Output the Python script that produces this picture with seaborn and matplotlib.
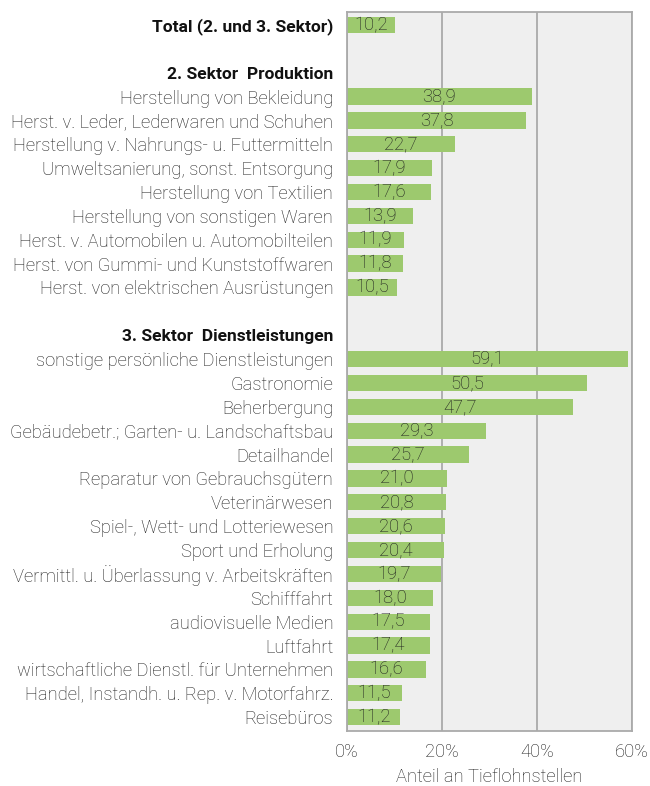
import numpy as np
import pandas as pd
import seaborn as sns
import matplotlib.pyplot as plt
from matplotlib.ticker import FuncFormatter

# categories (blank strings = spacer rows)
total_label = ["Total (2. und 3. Sektor)"]
total_values = [10.2]

prod_header = "2. Sektor  Produktion"
prod_labels = [
    "Herstellung von Bekleidung",
    "Herst. v. Leder, Lederwaren und Schuhen",
    "Herstellung v. Nahrungs- u. Futtermitteln",
    "Umweltsanierung, sonst. Entsorgung",
    "Herstellung von Textilien",
    "Herstellung von sonstigen Waren",
    "Herst. v. Automobilen u. Automobilteilen",
    "Herst. von Gummi- und Kunststoffwaren",
    "Herst. von elektrischen Ausrüstungen",
]
prod_values = [38.9, 37.8, 22.7, 17.9, 17.6, 13.9, 11.9, 11.8, 10.5]

serv_header = "3. Sektor  Dienstleistungen"
serv_labels = [
    "sonstige persönliche Dienstleistungen",
    "Gastronomie",
    "Beherbergung",
    "Gebäudebetr.; Garten- u. Landschaftsbau",
    "Detailhandel",
    "Reparatur von Gebrauchsgütern",
    "Veterinärwesen",
    "Spiel-, Wett- und Lotteriewesen",
    "Sport und Erholung",
    "Vermittl. u. Überlassung v. Arbeitskräften",
    "Schifffahrt",
    "audiovisuelle Medien",
    "Luftfahrt",
    "wirtschaftliche Dienstl. für Unternehmen",
    "Handel, Instandh. u. Rep. v. Motorfahrz.",
    "Reisebüros",
]
serv_values = [59.1, 50.5, 47.7, 29.3, 25.7, 21.0, 20.8, 20.6, 20.4, 19.7,
               18.0, 17.5, 17.4, 16.6, 11.5, 11.2]

order = (total_label + [""] + [prod_header] + prod_labels + [" "]
         + [serv_header] + serv_labels)
values = (total_values + [np.nan, np.nan] + prod_values + [np.nan, np.nan]
          + serv_values)
df = pd.DataFrame({"Kategorie": order, "Anteil": values})
bold_labels = total_label + [prod_header, serv_header]

sns.set_style("white")
plt.rcParams["font.family"] = ["Roboto", "DejaVu Sans"]
plt.rcParams["font.weight"] = "light"
plt.rcParams["axes.labelweight"] = "light"

fig, ax = plt.subplots(figsize=(6.5, 7.86), dpi=100)
fig.subplots_adjust(left=0.534, right=0.972, top=0.985, bottom=0.07)

sns.barplot(data=df.dropna(), x="Anteil", y="Kategorie", order=order,
            color="#9dc96e", saturation=1, width=0.68, linewidth=0, ax=ax)

ax.set_facecolor("#efefef")
ax.set_xlim(0, 60)
ax.set_ylim(len(order) - 0.42, -0.55)
ax.set_xticks([0, 20, 40, 60])
ax.xaxis.set_major_formatter(FuncFormatter(lambda v, p: f"{v:.0f}%"))
ax.grid(axis="x", color="#aaaaaa", linewidth=1.3)
ax.set_axisbelow(True)
for s in ax.spines.values():
    s.set_color("#aaaaaa")
    s.set_linewidth(1.3)

ax.tick_params(axis="x", length=5, width=1.3, color="#aaaaaa",
               labelsize=13.2, labelcolor="#1e1e1e", pad=4)
ax.tick_params(axis="y", length=0, labelsize=13.2, labelcolor="#1e1e1e", pad=10)
for t in ax.get_yticklabels():
    if t.get_text() in bold_labels:
        t.set_fontweight("bold")
        t.set_fontsize(12.5)
        t.set_color("#111111")

ax.set_ylabel("")
ax.set_xlabel("Anteil an Tieflohnstellen", fontsize=13.2, color="#1e1e1e",
              labelpad=5)

for cont in ax.containers:
    labels = [f"{b.get_width():.1f}".replace(".", ",") for b in cont]
    ax.bar_label(cont, labels=labels, label_type="center", fontsize=13.2,
                 color="#1e1e1e")

fig.savefig("out.png", dpi=100)
